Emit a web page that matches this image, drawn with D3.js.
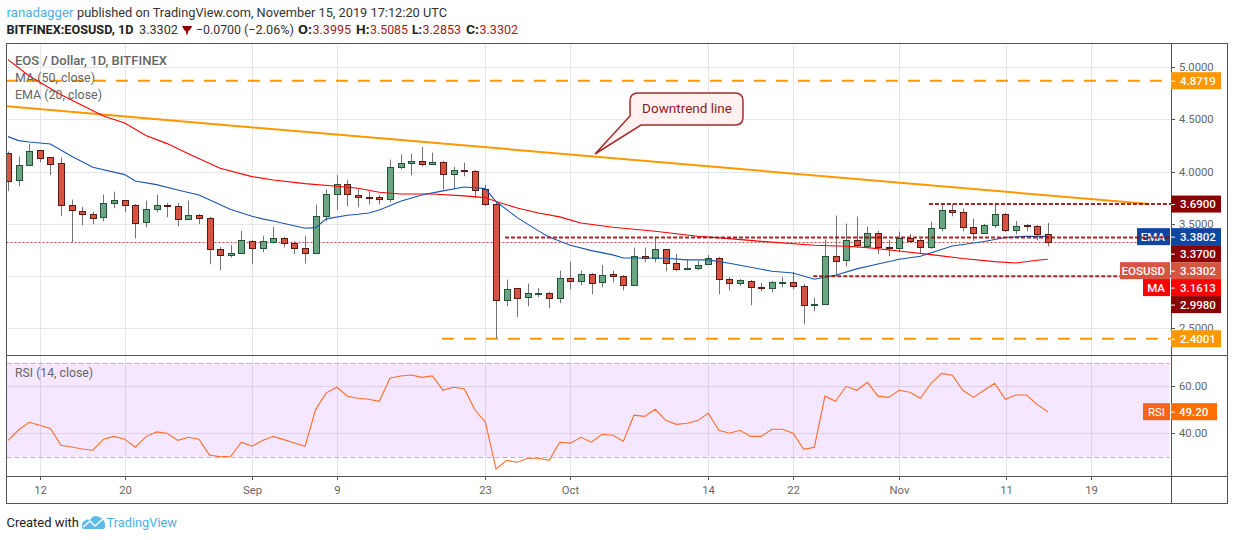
<!DOCTYPE html>
<html>
<head>
<meta charset="utf-8">
<script src="https://d3js.org/d3.v7.min.js"></script>
<style>
  html, body { margin: 0; padding: 0; background: #fff; }
  svg { display: block; }
  text { font-family: Roboto, "Noto Sans", sans-serif; }
  .axis path { display: none; }
  .axis text { fill: #666; font-size: 11.3px; font-family: Roboto, sans-serif; }
  .axis line { stroke: #555; }
  .grid path { display: none; }
  .grid text { display: none; }
  .grid line { stroke: #e6e6e6; }
</style>
</head>
<body>
<div id="chart"></div>
<script>
// Data______________________________________________
const opens = [4.18,3.918,4.065,4.209,4.141,4.084,3.682,3.624,3.595,3.567,3.701,3.73,3.682,3.519,3.643,3.682,3.672,3.548,3.586,3.557,
  3.26,3.203,3.219,3.334,3.27,3.327,3.366,3.318,3.27,3.219,3.576,3.787,3.883,3.777,3.761,3.758,3.739,4.046,4.084,4.103,
  4.074,4.094,3.979,4.017,4.007,3.835,3.691,2.772,2.887,2.8,2.835,2.839,2.791,2.982,2.954,3.021,2.944,3.021,3.002,2.915,
  3.193,3.174,3.26,3.126,3.069,3.078,3.117,3.174,2.973,2.935,2.954,2.896,2.887,2.941,2.944,2.906,2.724,2.733,3.193,3.155,
  3.346,3.289,3.413,3.279,3.27,3.366,3.346,3.279,3.461,3.634,3.615,3.471,3.413,3.49,3.595,3.442,3.49,3.48,3.3995];
const closes = [3.908,4.065,4.199,4.132,4.074,3.682,3.634,3.595,3.557,3.701,3.73,3.682,3.509,3.643,3.682,3.669,3.548,3.586,3.557,3.26,
  3.203,3.222,3.346,3.27,3.334,3.366,3.318,3.27,3.219,3.576,3.787,3.883,3.787,3.758,3.755,3.736,4.046,4.084,4.103,4.074,
  4.094,3.979,4.017,4.004,3.825,3.691,2.772,2.877,2.791,2.839,2.839,2.791,2.982,2.954,3.021,2.935,3.011,3.002,2.915,3.193,
  3.174,3.26,3.126,3.069,3.078,3.107,3.174,2.973,2.935,2.963,2.896,2.887,2.944,2.947,2.906,2.724,2.737,3.193,3.142,3.346,
  3.299,3.413,3.279,3.27,3.366,3.337,3.279,3.461,3.634,3.615,3.471,3.413,3.49,3.595,3.442,3.48,3.48,3.404,3.3302];
const highs = [4.193,4.145,4.269,4.209,4.141,4.135,3.733,3.663,3.618,3.781,3.809,3.73,3.691,3.723,3.781,3.701,3.701,3.723,3.595,3.567,
  3.279,3.299,3.433,3.346,3.385,3.471,3.375,3.334,3.385,3.685,3.829,3.969,3.921,3.829,3.809,3.777,4.116,4.164,4.173,4.237,
  4.183,4.103,4.046,4.087,4.017,3.873,3.717,2.967,2.887,2.928,2.887,2.848,3.053,3.139,3.053,3.03,3.107,3.053,3.011,3.273,
  3.273,3.375,3.26,3.212,3.155,3.145,3.203,3.184,2.992,2.973,2.963,2.935,2.954,2.992,3.04,2.925,2.791,3.35,3.58,3.503,
  3.57,3.474,3.433,3.346,3.426,3.404,3.356,3.522,3.691,3.691,3.647,3.551,3.5,3.691,3.605,3.528,3.5,3.49,3.5085];
const lows = [3.813,3.86,4.065,4.09,3.966,3.573,3.324,3.487,3.497,3.525,3.65,3.611,3.362,3.468,3.611,3.564,3.477,3.548,3.497,3.113,
  3.053,3.177,3.209,3.113,3.228,3.314,3.276,3.209,3.12,3.209,3.525,3.631,3.669,3.659,3.685,3.688,3.707,4.023,3.966,4.052,
  4.062,3.829,3.838,3.956,3.746,3.669,2.4,2.711,2.606,2.711,2.8,2.692,2.74,2.874,2.912,2.826,2.893,2.941,2.864,2.915,
  3.133,3.133,3.046,3.046,3.056,3.056,3.117,2.826,2.864,2.903,2.721,2.855,2.845,2.893,2.874,2.539,2.663,2.733,2.998,3.094,
  3.27,3.289,3.212,3.19,3.231,3.318,3.212,3.26,3.429,3.573,3.429,3.337,3.413,3.461,3.423,3.401,3.429,3.343,3.2853];

const rsiValues = [37,41.4,44.7,43.4,42.1,34.9,34.2,33.3,32.8,37.5,38.7,37.5,34.1,38.6,40.6,40,37,38.3,37.5,30.7,
  30,30.2,36.2,34.5,36.9,38.7,37.3,35.9,34.5,50.2,57.2,59.6,55.8,54.9,54.5,53.6,63.4,64.4,64.8,63.8,
  64.4,58.4,59.6,59,50,44.7,24.8,28.5,27.7,29.4,29.4,28.5,36.2,35.8,38.3,36.2,39.6,39.2,36.6,47.7,
  47.2,50.2,45.5,43.8,44.3,45.4,48.5,41.3,40,41.3,38.7,38.7,41.7,41.7,40,33.2,34.1,55.8,53.6,60,
  58.3,61.7,55.8,55.3,58.3,57.5,54.9,61.3,65.5,64.7,58.3,55.3,58.3,61.3,54.5,56.3,56.3,52.3,49.2];

// moving averages: bar number, value
const emaDays = [0,1,2,4,6,8,11,12,14,16,18,21,23,24,25,28,29,30,32,33,34,35,37,39,41,43,45,46,48,50,51,53,55,57,58,60,62,64,66,68,69,72,74,76,78,80,82,84,86,89,92,94,96,98];
const emaValues = [4.336,4.298,4.285,4.266,4.148,4.042,3.972,3.911,3.876,3.825,3.777,3.637,3.573,3.548,3.528,3.458,3.464,3.548,3.583,3.592,3.605,3.634,3.717,3.777,3.816,3.854,3.838,3.714,3.56,3.433,3.375,3.295,3.244,3.203,3.174,3.174,3.171,3.155,3.155,3.123,3.104,3.046,3.03,2.97,3.008,3.069,3.116,3.161,3.19,3.289,3.331,3.369,3.382,3.3802];
const maDays = [0,2,5,9,11,13,15,17,20,23,25,28,31,33,35,37,40,43,45,46,48,50,52,54,57,61,65,68,71,76,79,81,84,87,90,93,95,97,98];
const maValues = [5.074,4.917,4.738,4.534,4.467,4.346,4.269,4.173,4.033,3.953,3.921,3.886,3.86,3.841,3.803,3.787,3.787,3.768,3.752,3.714,3.653,3.605,3.567,3.509,3.468,3.429,3.381,3.359,3.333,3.296,3.286,3.273,3.241,3.206,3.168,3.139,3.126,3.152,3.1613];

// trend line and drawn levels
const trendDays = [-0.1,107.6];
const trendPrices = [4.626,3.69];
const orangeLevels = [4.8719,2.4001];
const orangeStarts = [-0.2,40.9];
const redLevels = [3.69,3.37,2.998];
const redStarts = [86.8,46.85,75.9];
const lastClose = 3.3302;

// ticks
const priceTicks = [5,4.5,4,3.5,2.5];
const gridPrices = [5,4.5,4,3.5,3,2.5];
const rsiTicks = [60,40];
const timeDays = [3,11,23,31,45,53,66,74,84,94.1,102.1];
const timeLabels = ['12','20','Sep','9','23','Oct','14','22','Nov','11','19'];

// price tags on the axis (stacked ones are pushed away from their real price)
const tagValues = ['4.8719','3.6900','3.3802','3.3700','3.3302','3.1613','2.9980','2.4001'];
const tagPrices = [4.8719,3.69,3.378,3.215,3.052,2.89,2.727,2.4];
const tagColors = ['#ff9800','#8b0000','#0d47a1','#8b0000','#d75442','#ff0000','#8b0000','#ff9800'];

// Sizes_____________________________________________
const width = 1234, height = 540;
const frameL = 6.5, frameR = 1227.5, axisX = 1171.5, frameT = 43.5, paneBottom = 355.5, timeTop = 476.5, frameB = 503.5;

const svg = d3.select('#chart').append('svg').attr('width', width).attr('height', height);

// Scales____________________________________________
const x = d3.scaleLinear().domain([3, 94]).range([39.8, 1005.3]);
const y = d3.scaleLinear().domain([5, 2.5]).range([67.3, 328.3]);
const yRsi = d3.scaleLinear().domain([60, 40]).range([386.3, 433.3]);
// rounded copies so grid lines and ticks stay crisp
const xR = x.copy().interpolate(d3.interpolateRound);
const yR = y.copy().interpolate(d3.interpolateRound);
const yRsiR = yRsi.copy().interpolate(d3.interpolateRound);

svg.append('defs').append('clipPath').attr('id', 'plot')
  .append('rect').attr('x', frameL).attr('y', frameT).attr('width', axisX - frameL).attr('height', paneBottom - frameT);

// Grid______________________________________________
svg.append('g').attr('class', 'grid').attr('transform', `translate(0,${timeTop - 0.5})`)
  .call(d3.axisBottom(xR).tickValues(timeDays).tickSize(-(timeTop - frameT)));
svg.append('g').attr('class', 'grid').attr('transform', `translate(${frameL},0)`)
  .call(d3.axisRight(yR).tickValues(gridPrices).tickSize(axisX - frameL));
svg.append('g').attr('class', 'grid').attr('transform', `translate(${frameL},0)`)
  .call(d3.axisRight(yRsiR).tickValues(rsiTicks).tickSize(axisX - frameL));

// RSI pane__________________________________________
svg.append('rect')
  .attr('x', frameL).attr('width', axisX - frameL - 2)
  .attr('y', yRsi(70)).attr('height', yRsi(30) - yRsi(70))
  .attr('fill', 'rgba(153,21,255,0.1)');
svg.selectAll('.rsi-band').data([70, 30]).enter().append('line')
  .attr('x1', frameL).attr('x2', axisX - 2)
  .attr('y1', d => Math.round(yRsi(d)) + 0.5).attr('y2', d => Math.round(yRsi(d)) + 0.5)
  .attr('stroke', '#bfb0c9').attr('stroke-dasharray', '5 3');
svg.append('path')
  .attr('d', d3.line().x((d, i) => x(i)).y(d => yRsi(d))(rsiValues))
  .attr('fill', 'none').attr('stroke', '#ff6d2a').attr('stroke-width', 1.1);

// Price pane________________________________________
const plot = svg.append('g').attr('clip-path', 'url(#plot)');

plot.append('line')
  .attr('x1', frameL).attr('x2', axisX)
  .attr('y1', Math.round(y(lastClose)) + 0.5).attr('y2', Math.round(y(lastClose)) + 0.5)
  .attr('stroke', '#c8493a').attr('stroke-dasharray', '2 2');

// orange levels
plot.selectAll('.orange').data(orangeLevels).enter().append('line')
  .attr('x1', (d, i) => x(orangeStarts[i])).attr('x2', axisX)
  .attr('y1', d => y(d)).attr('y2', d => y(d))
  .attr('stroke', '#ff9800').attr('stroke-width', 2).attr('stroke-dasharray', '12 10');

// trend line
plot.append('line')
  .attr('x1', x(trendDays[0])).attr('y1', y(trendPrices[0]))
  .attr('x2', x(trendDays[1])).attr('y2', y(trendPrices[1]))
  .attr('stroke', '#ff9800').attr('stroke-width', 2);

// candles
const candles = plot.selectAll('.candle').data(opens).enter().append('g').attr('class', 'candle');
candles.append('line')
  .attr('x1', (d, i) => Math.round(x(i)) + 0.5).attr('x2', (d, i) => Math.round(x(i)) + 0.5)
  .attr('y1', (d, i) => y(highs[i])).attr('y2', (d, i) => y(lows[i]))
  .attr('stroke', '#737375');
candles.append('rect')
  .attr('x', (d, i) => Math.round(x(i)) - 2.5)
  .attr('width', 6)
  .attr('y', (d, i) => Math.round(y(Math.max(d, closes[i]))) + 0.5)
  .attr('height', (d, i) => Math.max(Math.round(y(Math.min(d, closes[i]))) - Math.round(y(Math.max(d, closes[i]))), 1))
  .attr('fill', (d, i) => closes[i] >= d ? '#6ba583' : '#d75442')
  .attr('stroke', (d, i) => closes[i] >= d ? '#225437' : '#5b1a13');

// moving averages
plot.append('path')
  .attr('d', d3.line().x((d, i) => x(maDays[i])).y(d => y(d))(maValues))
  .attr('fill', 'none').attr('stroke', '#ff0000').attr('stroke-width', 1.1);
plot.append('path')
  .attr('d', d3.line().x((d, i) => x(emaDays[i])).y(d => y(d))(emaValues))
  .attr('fill', 'none').attr('stroke', '#1c55ad').attr('stroke-width', 1.1);

// Frame_____________________________________________
const frame = svg.append('g').attr('stroke', '#555').attr('fill', 'none');
frame.append('rect').attr('x', frameL).attr('y', frameT).attr('width', frameR - frameL).attr('height', frameB - frameT);
frame.append('line').attr('x1', frameL).attr('x2', frameR).attr('y1', paneBottom).attr('y2', paneBottom);
frame.append('line').attr('x1', frameL).attr('x2', frameR).attr('y1', timeTop).attr('y2', timeTop);
frame.append('line').attr('x1', axisX).attr('x2', axisX).attr('y1', frameT).attr('y2', frameB);

// Axes______________________________________________
svg.append('g').attr('class', 'axis').attr('transform', `translate(${axisX - 0.5},0)`)
  .call(d3.axisRight(yR).tickValues(priceTicks).tickSize(4).tickPadding(4).tickFormat(d3.format('.4f')));
svg.append('g').attr('class', 'axis').attr('transform', `translate(${axisX - 0.5},0)`)
  .call(d3.axisRight(yRsiR).tickValues(rsiTicks).tickSize(4).tickPadding(4).tickFormat(d3.format('.2f')));
svg.append('g').attr('class', 'axis').attr('transform', `translate(0,${timeTop - 0.5})`)
  .call(d3.axisBottom(xR).tickValues(timeDays).tickSize(4).tickPadding(6).tickFormat((d, i) => timeLabels[i]));

// Price tags________________________________________
function sideTag(label, cy, fill, w) {
  svg.append('rect').attr('x', 1170 - w).attr('y', cy - 8.5).attr('width', w).attr('height', 17).attr('fill', fill);
  svg.append('text').attr('x', 1165).attr('y', cy + 4).attr('text-anchor', 'end')
    .attr('fill', '#fff').attr('font-size', 11.5).attr('font-weight', 500).text(label);
}
sideTag('EMA', y(tagPrices[2]), '#0d47a1', 33);

// red levels go over the EMA tag, under the others
svg.append('g').attr('clip-path', 'url(#plot)').selectAll('line').data(redLevels).enter().append('line')
  .attr('x1', (d, i) => x(redStarts[i])).attr('x2', axisX)
  .attr('y1', d => y(d)).attr('y2', d => y(d))
  .attr('stroke', '#990000').attr('stroke-width', 2).attr('stroke-dasharray', '4 2').attr('opacity', 0.85);

sideTag('EOSUSD', y(tagPrices[4]), '#d75442', 50);
sideTag('MA', y(tagPrices[5]), '#ff0000', 27);

const tags = svg.selectAll('.tag').data(tagValues).enter().append('g').attr('class', 'tag')
  .attr('transform', (d, i) => `translate(${axisX - 0.5},${y(tagPrices[i])})`);
tags.append('rect').attr('x', 0).attr('y', -8.5).attr('width', 50).attr('height', 17)
  .attr('fill', (d, i) => tagColors[i]);
tags.append('line').attr('x1', 0).attr('x2', 4).attr('y1', 0.5).attr('y2', 0.5).attr('stroke', '#fff');
tags.append('text').attr('x', 9).attr('y', 4).attr('fill', '#fff').attr('font-size', 11.5)
  .attr('font-weight', 500).text(d => d);

// RSI tag
svg.append('rect').attr('x', 1143).attr('y', yRsi(49.2) - 8.5).attr('width', 27).attr('height', 17).attr('fill', '#f7641b');
svg.append('text').attr('x', 1165).attr('y', yRsi(49.2) + 4).attr('text-anchor', 'end')
  .attr('fill', '#fff').attr('font-size', 11.5).text('RSI');
const rsiTag = svg.append('g').attr('transform', `translate(${axisX - 0.5},${yRsi(49.2)})`);
rsiTag.append('rect').attr('y', -8.5).attr('width', 46).attr('height', 17).attr('fill', '#ff6d00');
rsiTag.append('line').attr('x2', 4).attr('y1', 0.5).attr('y2', 0.5).attr('stroke', '#fff');
rsiTag.append('text').attr('x', 8).attr('y', 4).attr('fill', '#fff').attr('font-size', 11.5).attr('font-weight', 500).text('49.20');

// Callout___________________________________________
svg.append('path')
  .attr('d', 'M638,93 H735 Q743,93 743,101 V117 Q743,125 735,125 H641 L595,154 L630,116 V101 Q630,93 638,93 Z')
  .attr('fill', '#fff1f0').attr('stroke', '#a32c2c').attr('stroke-width', 1.5);
svg.append('text').attr('x', 687).attr('y', 113).attr('text-anchor', 'middle')
  .attr('fill', '#8b1a1a').attr('font-size', 13.5).text('Downtrend line');

// Text fitted to the width it has in the picture
function fitted(parent, str, xPos, yPos, len, fill, weight) {
  return parent.append('text').attr('x', xPos).attr('y', yPos)
    .attr('textLength', len).attr('lengthAdjust', 'spacingAndGlyphs')
    .attr('font-size', 13.5).attr('fill', fill).attr('font-weight', weight || 400).text(str);
}

// Pane legends______________________________________
fitted(svg, 'EOS / Dollar, 1D, BITFINEX', 15, 65, 152, '#666', 500);
fitted(svg, 'MA (50, close)', 15, 82, 80, '#666');
fitted(svg, 'EMA (20, close)', 15, 99, 87, '#666');
fitted(svg, 'RSI (14, close)', 15, 377, 78, '#666');

// Header____________________________________________
fitted(svg, 'ranadagger', 6.5, 17, 67, '#4ab0e8');
fitted(svg, 'published on TradingView.com, November 15, 2019 17:12:20 UTC', 77, 17, 370, '#333');

fitted(svg, 'BITFINEX:EOSUSD, 1D', 6.5, 33.5, 127, '#222', 700);
fitted(svg, '3.3302', 139, 33.5, 39, '#333');
svg.append('path').attr('d', 'M182,26 H192.3 L189.5,30.5 H188.5 L187,36 L185.5,30.5 H184.5 Z').attr('fill', '#8b0000');
fitted(svg, '−0.0700', 196, 33.5, 45, '#333');
fitted(svg, '(−2.06%)', 244, 33.5, 50, '#333');
fitted(svg, 'O:', 298, 33.5, 14, '#222', 700);
fitted(svg, '3.3995', 312.5, 33.5, 38.5, '#a11d1d');
fitted(svg, 'H:', 356, 33.5, 13.5, '#222', 700);
fitted(svg, '3.5085', 370, 33.5, 38, '#a11d1d');
fitted(svg, 'L:', 412, 33.5, 10, '#222', 700);
fitted(svg, '3.2853', 422.5, 33.5, 38.5, '#a11d1d');
fitted(svg, 'C:', 466, 33.5, 13, '#222', 700);
fitted(svg, '3.3302', 479.5, 33.5, 38.5, '#a11d1d');

// Footer____________________________________________
fitted(svg, 'Created with', 6.5, 527, 72.5, '#222');
svg.append('path')
  .attr('d', 'M82,527 L82,524 Q85,518 90,520 Q94,514 99,517 Q103,518 105,523 L105,527 Q105,529 102,529 L85,529 Q82,529 82,527 Z')
  .attr('fill', '#5cbde8');
svg.append('path')
  .attr('d', 'M83,527 L90,521 L95,526 L104,518')
  .attr('fill', 'none').attr('stroke', '#fff').attr('stroke-width', 1.5);
fitted(svg, 'TradingView', 106.5, 527, 70.5, '#4ab0e8');
</script>
</body>
</html>
